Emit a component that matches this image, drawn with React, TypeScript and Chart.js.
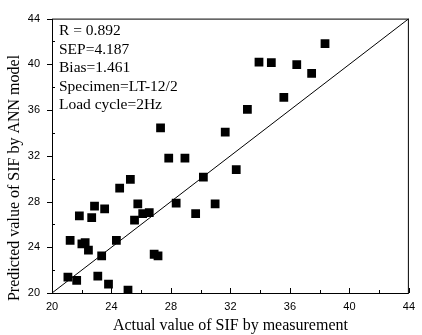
import React, { useEffect, useRef } from "react";
import { Chart, registerables } from "chart.js";

Chart.register(...registerables);

const actualSIF = [21.07, 21.66, 21.22, 21.84, 22.01, 22.23, 22.45, 22.67, 22.86, 23.08, 23.34, 23.54, 23.8, 24.33, 24.55, 25.11, 25.27, 25.77, 25.55, 26.1, 26.54, 26.87, 27.13, 28.35, 29.66, 30.18, 30.97, 32.39, 31.65, 33.14, 33.92, 34.75, 35.59, 36.46, 37.46, 38.36, 27.3, 27.85, 28.94];
const predictedSIF = [21.39, 21.1, 24.6, 26.75, 24.3, 24.4, 23.76, 26.6, 27.6, 21.48, 23.25, 27.35, 20.77, 24.6, 29.17, 20.26, 29.94, 27.8, 26.38, 26.95, 27.04, 23.39, 23.25, 27.86, 26.95, 30.14, 27.8, 30.8, 34.08, 36.07, 40.2, 40.14, 37.12, 39.97, 39.2, 41.82, 34.44, 31.8, 31.8];
const diagonalLine = [20, 44];
const axisMin = 20;
const axisMax = 44;
const majorStep = 4;
const minorStep = 2;
const statLines = ["R = 0.892", "SEP=4.187", "Bias=1.461", "Specimen=LT-12/2", "Load cycle=2Hz"];
const xTitle = "Actual value of SIF by measurement";
const yTitle = "Predicted value of SIF by ANN model";

const SERIF = "'Liberation Serif', 'Times New Roman', serif";
const SANS = "'Liberation Sans', Arial, sans-serif";

const decorPlugin = {
  id: "decor",
  afterDraw(chart: any) {
    const { ctx, chartArea, scales } = chart;
    const xs = scales.x;
    const ys = scales.y;
    ctx.save();
    ctx.strokeStyle = "#000";
    ctx.lineWidth = 1;
    ctx.strokeRect(chartArea.left + 0.5, chartArea.top + 0.5, chartArea.right - chartArea.left - 1, chartArea.bottom - chartArea.top);
    ctx.beginPath();
    for (let v = axisMin; v <= axisMax; v += minorStep) {
      const major = (v - axisMin) % majorStep === 0;
      const len = major ? 5 : 3;
      const px = Math.round(xs.getPixelForValue(v)) + 0.5;
      ctx.moveTo(px, chartArea.bottom);
      ctx.lineTo(px, chartArea.bottom - len);
      const py = Math.round(ys.getPixelForValue(v)) + 0.5;
      if (major) {
        ctx.moveTo(chartArea.left - 5, py);
        ctx.lineTo(chartArea.left, py);
      } else {
        ctx.moveTo(chartArea.left, py);
        ctx.lineTo(chartArea.left + 3, py);
      }
    }
    ctx.stroke();

    ctx.fillStyle = "#000";
    ctx.font = `15.5px ${SERIF}`;
    ctx.textAlign = "left";
    ctx.textBaseline = "middle";
    statLines.forEach((t, i) => {
      ctx.fillText(t, 59, 31 + i * 18.5);
    });

    ctx.font = `16px ${SERIF}`;
    ctx.textAlign = "center";
    ctx.fillText(xTitle, (chartArea.left + chartArea.right) / 2, 326);

    ctx.translate(15, 178);
    ctx.rotate(-Math.PI / 2);
    ctx.fillText(yTitle, 0, 0);
    ctx.restore();
  },
};

export default function App() {
  const ref = useRef<HTMLCanvasElement>(null);
  useEffect(() => {
    if (!ref.current) return;
    const points = actualSIF.map((x, i) => ({ x, y: predictedSIF[i] }));
    const line = diagonalLine.map((v) => ({ x: v, y: v }));
    const chart = new Chart(ref.current, {
      type: "scatter",
      data: {
        datasets: [
          {
            type: "line",
            data: line,
            borderColor: "#000",
            borderWidth: 1,
            pointRadius: 0,
            fill: false,
          } as any,
          {
            data: points,
            pointStyle: "rect",
            pointRadius: 6.2,
            pointBackgroundColor: "#000",
            pointBorderWidth: 0,
            backgroundColor: "#000",
            borderColor: "#000",
          },
        ],
      },
      options: {
        animation: false,
        responsive: true,
        maintainAspectRatio: false,
        layout: { padding: { top: 12, right: 4, left: 0, bottom: 0 } },
        plugins: { legend: { display: false }, tooltip: { enabled: false } },
        scales: {
          x: {
            type: "linear",
            min: axisMin,
            max: axisMax,
            grid: { display: false, drawTicks: false },
            border: { display: false },
            ticks: { stepSize: majorStep, padding: 7, color: "#000", font: { family: SANS, size: 11 } },
            afterFit: (s: any) => { s.height = 42; },
          },
          y: {
            type: "linear",
            min: axisMin,
            max: axisMax,
            grid: { display: false, drawTicks: false },
            border: { display: false },
            ticks: { stepSize: majorStep, padding: 12, color: "#000", font: { family: SANS, size: 11 } },
            afterFit: (s: any) => { s.width = 52; },
          },
        },
      },
      plugins: [decorPlugin],
    });
    return () => chart.destroy();
  }, []);
  return (
    <div style={{ position: "absolute", left: 0, top: 0, width: 422, height: 335, background: "#fff" }}>
      <canvas ref={ref} />
    </div>
  );
}
